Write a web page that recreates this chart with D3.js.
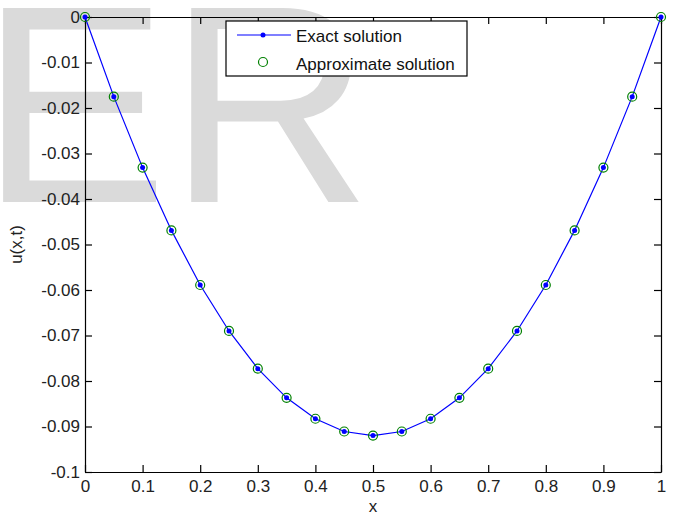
<!DOCTYPE html>
<html>
<head>
<meta charset="utf-8">
<script src="https://cdn.jsdelivr.net/npm/d3@7"></script>
<style>
  body { margin: 0; background: #fff; }
  svg text { font-family: "Liberation Sans", Arial, sans-serif; }
</style>
</head>
<body>
<div id="chart"></div>
<script>
// values
var xValues = [0, 0.05, 0.1, 0.15, 0.2, 0.25, 0.3, 0.35, 0.4, 0.45, 0.5,
               0.55, 0.6, 0.65, 0.7, 0.75, 0.8, 0.85, 0.9, 0.95, 1];
var exactValues = [0, -0.0175, -0.0331, -0.0469, -0.0589, -0.069, -0.0773, -0.0837, -0.0883, -0.0911, -0.092,
                   -0.0911, -0.0883, -0.0837, -0.0773, -0.069, -0.0589, -0.0469, -0.0331, -0.0175, 0];
var approxValues = [0, -0.0175, -0.0331, -0.0469, -0.0589, -0.069, -0.0773, -0.0837, -0.0883, -0.0911, -0.092,
                    -0.0911, -0.0883, -0.0837, -0.0773, -0.069, -0.0589, -0.0469, -0.0331, -0.0175, 0];
var xTicks = [0, 0.1, 0.2, 0.3, 0.4, 0.5, 0.6, 0.7, 0.8, 0.9, 1];
var yTicks = [0, -0.01, -0.02, -0.03, -0.04, -0.05, -0.06, -0.07, -0.08, -0.09, -0.1];
var seriesNames = ['Exact solution', 'Approximate solution'];

var width = 673, height = 516;
var plotLeft = 85, plotRight = 661, plotTop = 17, plotBottom = 472;

var svg = d3.select('#chart')
  .append('svg')
  .attr('width', width)
  .attr('height', height);

// watermark behind the plot
svg.append('text')
  .attr('x', -20)
  .attr('y', 202)
  .style('font-size', '282px')
  .style('fill', '#dadada')
  .text('ER');

var x = d3.scaleLinear().domain([0, 1]).range([plotLeft, plotRight]);
var y = d3.scaleLinear().domain([-0.1, 0]).range([plotBottom, plotTop]);

// plain hyphen minus, like matlab
var fmt = function(d) { return String(+d.toFixed(2)); };

var axisStyle = function(g) {
  g.select('.domain').attr('stroke', '#000').attr('stroke-width', 1.2);
  g.selectAll('.tick line').attr('stroke', '#000').attr('stroke-width', 1.2);
  g.selectAll('text').style('font-size', '17px').attr('fill', '#222')
    .style('font-family', '"Liberation Sans", Arial, sans-serif');
};

svg.append('g')
  .attr('transform', 'translate(0,' + plotBottom + ')')
  .call(d3.axisBottom(x).tickValues(xTicks).tickFormat(fmt)
    .tickSizeInner(-7).tickSizeOuter(0).tickPadding(8))
  .call(axisStyle);

svg.append('g')
  .attr('transform', 'translate(0,' + plotTop + ')')
  .call(d3.axisTop(x).tickValues(xTicks).tickFormat('')
    .tickSizeInner(-7).tickSizeOuter(0))
  .call(axisStyle);

svg.append('g')
  .attr('transform', 'translate(' + plotLeft + ',0)')
  .call(d3.axisLeft(y).tickValues(yTicks).tickFormat(fmt)
    .tickSizeInner(-7).tickSizeOuter(0).tickPadding(5))
  .call(axisStyle);

svg.append('g')
  .attr('transform', 'translate(' + plotRight + ',0)')
  .call(d3.axisRight(y).tickValues(yTicks).tickFormat('')
    .tickSizeInner(-7).tickSizeOuter(0))
  .call(axisStyle);

// axis labels
svg.append('text')
  .attr('x', x(0.5))
  .attr('y', 512)
  .attr('text-anchor', 'middle')
  .style('font-size', '17px')
  .style('fill', '#222')
  .text('x');

svg.append('text')
  .attr('transform', 'translate(22,' + y(-0.05) + ') rotate(-90)')
  .attr('text-anchor', 'middle')
  .style('font-size', '17px')
  .style('fill', '#222')
  .text('u(x,t)');

// exact solution: line with point markers
var line = d3.line()
  .x(function(d, i) { return x(xValues[i]); })
  .y(function(d) { return y(d); });

svg.append('path')
  .datum(exactValues)
  .attr('d', line)
  .attr('fill', 'none')
  .attr('stroke', '#0000ff')
  .attr('stroke-width', 1.2);

// approximate solution: open green circles
svg.selectAll('.approx')
  .data(approxValues)
  .enter()
  .append('circle')
  .attr('class', 'approx')
  .attr('cx', function(d, i) { return x(xValues[i]); })
  .attr('cy', function(d) { return y(d); })
  .attr('r', 4.5)
  .attr('fill', 'none')
  .attr('stroke', '#008000')
  .attr('stroke-width', 1.2);

svg.selectAll('.exact-dot')
  .data(exactValues)
  .enter()
  .append('circle')
  .attr('class', 'exact-dot')
  .attr('cx', function(d, i) { return x(xValues[i]); })
  .attr('cy', function(d) { return y(d); })
  .attr('r', 2.5)
  .attr('fill', '#0000ff');

// legend
var legend = svg.append('g').attr('transform', 'translate(226,21)');
legend.append('rect')
  .attr('width', 241)
  .attr('height', 55)
  .attr('fill', '#fff')
  .attr('stroke', '#000')
  .attr('stroke-width', 1.2);

legend.append('line')
  .attr('x1', 11).attr('x2', 65)
  .attr('y1', 14).attr('y2', 14)
  .attr('stroke', '#0000ff')
  .attr('stroke-width', 1.2);
legend.append('circle')
  .attr('cx', 37).attr('cy', 14).attr('r', 2.5)
  .attr('fill', '#0000ff');
legend.append('circle')
  .attr('cx', 37).attr('cy', 41).attr('r', 4.5)
  .attr('fill', 'none')
  .attr('stroke', '#008000')
  .attr('stroke-width', 1.2);

legend.selectAll('.legend-text')
  .data(seriesNames)
  .enter()
  .append('text')
  .attr('class', 'legend-text')
  .attr('x', 70)
  .attr('y', function(d, i) { return 21 + i * 28; })
  .style('font-size', '17px')
  .style('fill', '#111')
  .text(function(d) { return d; });
</script>
</body>
</html>
